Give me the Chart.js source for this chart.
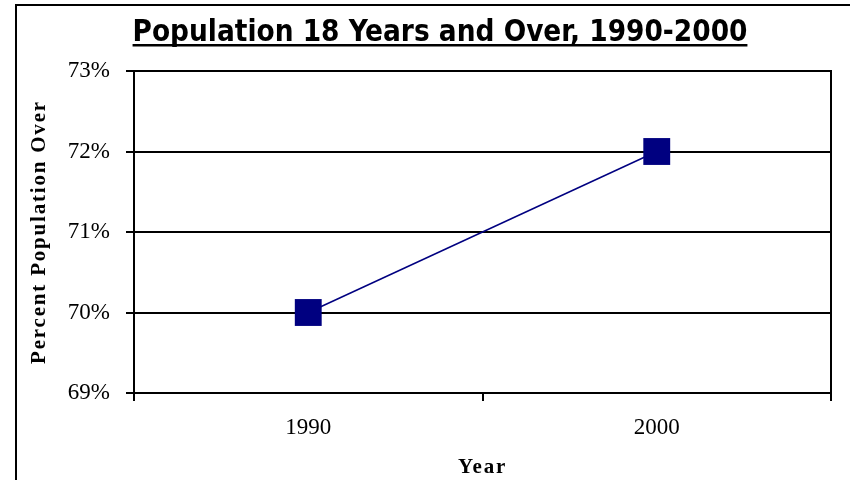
<!DOCTYPE html>
<html>
<head>
<meta charset="utf-8">
<script src="https://cdn.jsdelivr.net/npm/chart.js@4"></script>
<style>
  html, body { margin: 0; padding: 0; background: #fff; }
  #wrap { width: 850px; height: 480px; position: relative; }
</style>
</head>
<body>
<div id="wrap"><canvas id="popChart" width="850" height="480"></canvas></div>
<script>
const years = ['1990', '2000'];
const pctOver18 = [70, 72];
const yTicks = [69, 70, 71, 72, 73];

const chartTitle = 'Population 18 Years and Over, 1990-2000';
const yTitle = 'Percent Population Over';
const xTitle = 'Year';

const navy = '#000080';

// frame, title with underline, right plot edge and spaced axis titles
const decorations = {
  id: 'decorations',
  beforeDraw(chart) {
    const c = chart.ctx;
    c.save();
    c.fillStyle = '#fff';
    c.fillRect(0, 0, chart.width, chart.height);
    c.strokeStyle = '#000';
    c.lineWidth = 2;
    c.strokeRect(16, 5, 900, 600);
    c.restore();
  },
  afterDraw(chart) {
    const c = chart.ctx;
    const area = chart.chartArea;
    c.save();
    c.strokeStyle = '#000';
    c.lineWidth = 2;
    c.beginPath();
    c.moveTo(area.right, area.top - 1);
    c.lineTo(area.right, area.bottom + 8);
    c.stroke();

    // chart title
    c.font = 'bold 29.4px "DejaVu Sans Condensed", "DejaVu Sans"';
    c.fillStyle = '#000';
    c.textAlign = 'center';
    c.textBaseline = 'alphabetic';
    const tx = 440, ty = 41;
    c.fillText(chartTitle, tx, ty);
    const w = c.measureText(chartTitle).width;
    c.fillRect(tx - w / 2, 44, w, 2.5);

    // axis titles
    if ('letterSpacing' in c) c.letterSpacing = '1.8px';
    c.font = 'bold 21px "Liberation Serif"';
    c.textBaseline = 'middle';
    c.fillText(xTitle, (area.left + area.right) / 2, 468);
    c.translate(40, (area.top + area.bottom) / 2);
    c.rotate(-Math.PI / 2);
    c.fillText(yTitle, 0, 0);
    c.restore();
  }
};

new Chart(document.getElementById('popChart'), {
  type: 'line',
  data: {
    labels: years,
    datasets: [{
      data: pctOver18,
      borderColor: navy,
      borderWidth: 1.5,
      backgroundColor: navy,
      pointStyle: 'rect',
      pointRadius: 19,
      pointHoverRadius: 19,
      pointBorderWidth: 0,
      pointBackgroundColor: navy,
      tension: 0
    }]
  },
  options: {
    responsive: false,
    animation: false,
    layout: { padding: { top: 71, left: 0, right: 18, bottom: 0 } },
    scales: {
      x: {
        offset: true,
        afterFit(scale) { scale.height = 87; },
        grid: {
          offset: true,
          drawOnChartArea: false,
          drawTicks: true,
          tickLength: 8,
          color: '#000',
          lineWidth: 2
        },
        border: { color: '#000', width: 2 },
        ticks: {
          padding: 13,
          color: '#000',
          font: { family: '"Liberation Serif"', size: 23 }
        }
      },
      y: {
        min: yTicks[0],
        max: yTicks[yTicks.length - 1],
        afterFit(scale) { scale.width = 134; },
        afterBuildTicks(scale) { scale.ticks = yTicks.map(v => ({ value: v })); },
        grid: {
          color: '#000',
          lineWidth: 2,
          tickLength: 8
        },
        border: { color: '#000', width: 2 },
        ticks: {
          padding: 16,
          color: '#000',
          font: { family: '"Liberation Serif"', size: 23 },
          callback: v => v + '%'
        }
      }
    },
    plugins: {
      legend: { display: false },
      tooltip: { enabled: false }
    }
  },
  plugins: [decorations]
});
</script>
</body>
</html>
